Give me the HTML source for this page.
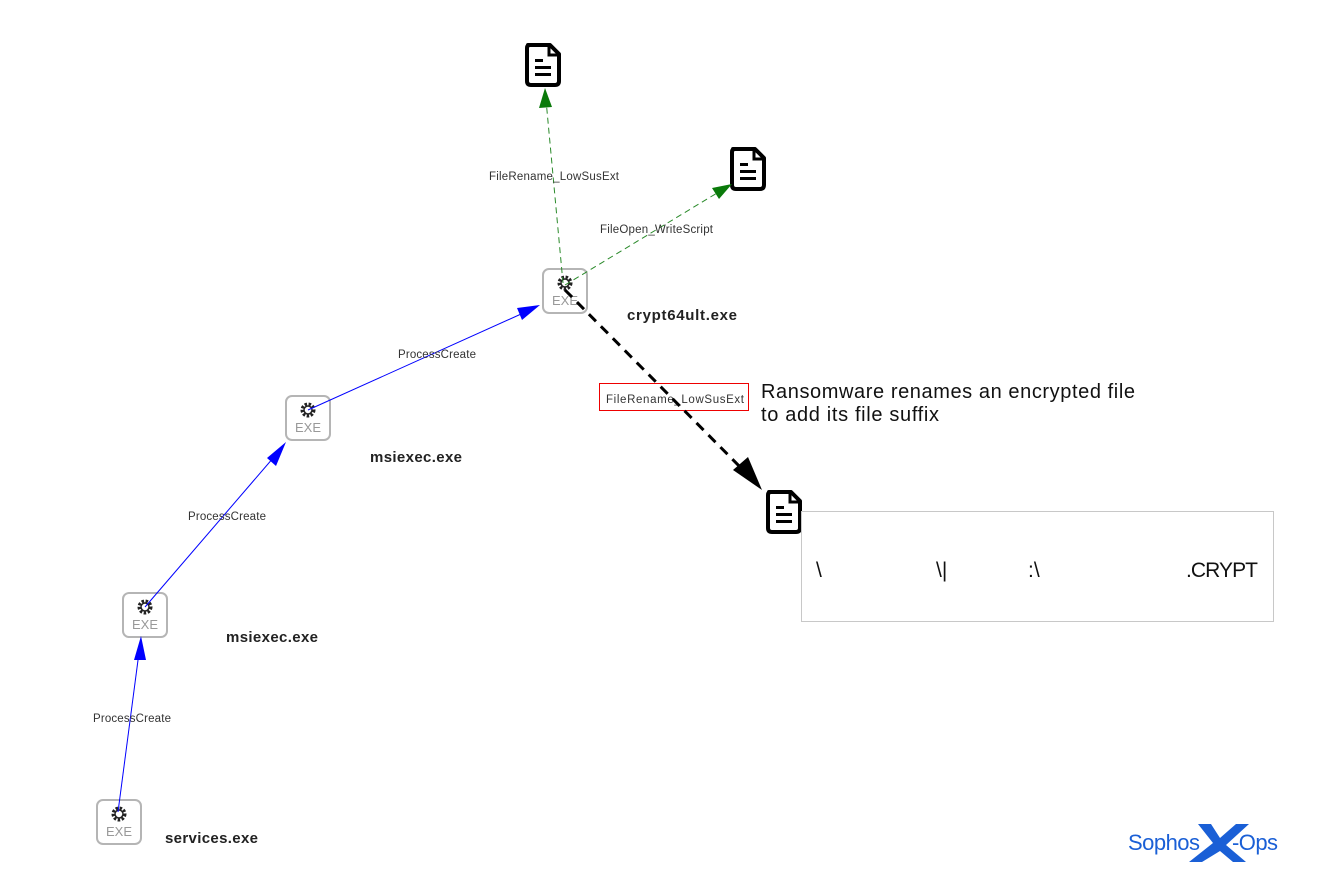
<!DOCTYPE html>
<html><head><style>
body{margin:0;background:#fff;}
text{font-family:"Liberation Sans",Arial,sans-serif;}
</style></head><body>
<svg width="1327" height="876" xmlns="http://www.w3.org/2000/svg">
<defs>
<g id="exe">
<rect x="-22" y="-22" width="44" height="44" rx="6" fill="none" stroke="#b5b5b5" stroke-width="2"/>
<circle cx="0" cy="-8" r="6" fill="none" stroke="#222" stroke-width="3" stroke-dasharray="2.5 1.6"/>
<circle cx="0" cy="-8" r="4" fill="none" stroke="#222" stroke-width="1.5"/>
<text x="0" y="14" font-size="13" fill="#999" text-anchor="middle">EXE</text>
</g>
<g id="doc">
<path d="M-15,-19 H7 L16,-10 V17 Q16,21 12,21 H-12 Q-16,21 -16,17 V-16 Q-16,-19 -13,-19 Z" fill="#fff" stroke="#000" stroke-width="4" stroke-linejoin="round"/>
<path d="M6,-19 V-9 H16" fill="none" stroke="#000" stroke-width="3"/>
<rect x="-8" y="-5" width="8" height="3" fill="#000"/>
<rect x="-8" y="2" width="16" height="3" fill="#000"/>
<rect x="-8" y="9" width="16" height="3" fill="#000"/>
</g>
</defs>
<use href="#exe" x="119" y="822"/>
<use href="#exe" x="145" y="615"/>
<use href="#exe" x="308" y="418"/>
<use href="#exe" x="565" y="291"/>
<use href="#doc" x="543" y="64"/>
<use href="#doc" x="748" y="168"/>
<use href="#doc" x="784" y="511"/>
<line x1="118" y1="812" x2="140" y2="645" stroke="#00f" stroke-width="1"/>
<polygon points="141,636 134,660 146,660" fill="#00f"/>
<line x1="145" y1="607" x2="280" y2="450" stroke="#00f" stroke-width="1"/>
<polygon points="286,442 267,458 276,466" fill="#00f"/>
<line x1="308" y1="410" x2="530" y2="310" stroke="#00f" stroke-width="1"/>
<polygon points="540,305 517,308 522,320" fill="#00f"/>
<line x1="563" y1="283" x2="546" y2="100" stroke="#2a8a2a" stroke-width="1" stroke-dasharray="6 4"/>
<polygon points="545,88 539,108 552,107" fill="#0a7a0a"/>
<line x1="565" y1="285" x2="722" y2="190" stroke="#2a8a2a" stroke-width="1" stroke-dasharray="6 4"/>
<polygon points="732,184 712,188 719,199" fill="#0a7a0a"/>
<rect x="801.5" y="511.5" width="472" height="110" fill="#fff" stroke="#c8c8c8"/>
<text x="816" y="577" font-size="21" fill="#111">\</text>
<text x="936" y="577" font-size="21" fill="#111">\|</text>
<text x="1028" y="577" font-size="21" fill="#111">:\</text>
<text x="1186" y="577" font-size="21" fill="#111" textLength="72">.CRYPT</text>
<g font-size="11.5" fill="#333">
<text x="93" y="722" textLength="78">ProcessCreate</text>
<text x="188" y="520" textLength="78">ProcessCreate</text>
<text x="398" y="358" textLength="78">ProcessCreate</text>
<text x="489" y="180" textLength="130">FileRename_LowSusExt</text>
<text x="600" y="233" textLength="113">FileOpen_WriteScript</text>
</g>
<rect x="599.5" y="383.5" width="149" height="27" fill="#fff" stroke="#e00" stroke-width="1"/>
<text x="606" y="403" font-size="11.5" fill="#333" textLength="138">FileRename_LowSusExt</text>
<line x1="565" y1="290" x2="748" y2="475" stroke="#000" stroke-width="3" stroke-dasharray="10 7"/>
<polygon points="762,490 733,470 748,457" fill="#000"/>
<g font-size="15" font-weight="bold" fill="#222">
<text x="165" y="843" textLength="93">services.exe</text>
<text x="226" y="642" textLength="92">msiexec.exe</text>
<text x="370" y="462" textLength="92">msiexec.exe</text>
<text x="627" y="320" textLength="110">crypt64ult.exe</text>
</g>
<text x="761" y="398" font-size="20" fill="#111" textLength="374">Ransomware renames an encrypted file</text>
<text x="761" y="421" font-size="20" fill="#111" textLength="178">to add its file suffix</text>
<text x="1128" y="850" font-size="22" fill="#1a5fd6" textLength="72">Sophos</text>
<polygon points="1198,824 1211,824 1220,838 1236,824 1249,824 1226,845 1246,862 1233,862 1220,851 1202,862 1189,862 1213,843" fill="#1a5fd6"/>
<text x="1232" y="850" font-size="22" fill="#1a5fd6" textLength="46">-Ops</text>
</svg>
</body></html>
